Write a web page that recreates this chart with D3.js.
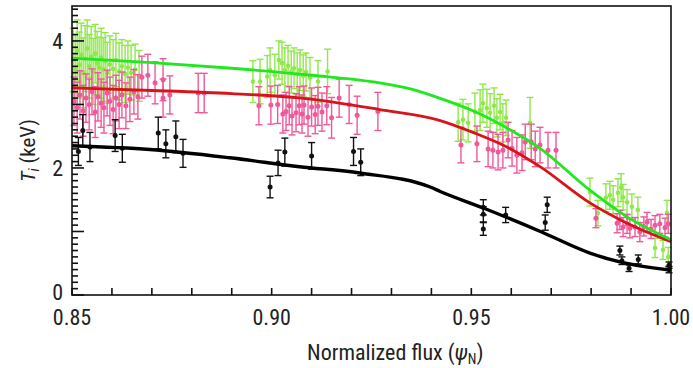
<!DOCTYPE html>
<html><head><meta charset="utf-8">
<script src="https://cdn.jsdelivr.net/npm/d3@7/dist/d3.min.js"></script>
<style>
body{margin:0;background:#fff;}
svg{display:block;}
text{font-family:'Liberation Sans Narrow','Arial Narrow','Roboto Condensed','Liberation Sans',sans-serif;fill:#222;}
</style></head><body>
<svg id="c" width="693" height="368"></svg>
<script>
// ---- data: [psiN, Ti (keV), error] ----
const greenPoints = [
[0.8503,3.70,0.50],[0.8508,3.55,0.55],[0.8513,3.85,0.48],[0.8518,3.62,0.52],[0.8523,3.78,0.50],
[0.8528,3.50,0.55],[0.8533,3.72,0.52],[0.8538,3.88,0.45],[0.8543,3.60,0.50],[0.8548,3.75,0.48],
[0.8553,3.52,0.52],[0.8558,3.80,0.46],[0.8563,3.65,0.50],[0.8568,3.58,0.48],[0.8573,3.74,0.46],
[0.8578,3.55,0.50],[0.8583,3.68,0.45],[0.8588,3.50,0.48],[0.8595,3.63,0.45],[0.8603,3.56,0.46],
[0.8610,3.70,0.42],[0.8618,3.52,0.45],[0.8625,3.60,0.42],[0.8633,3.48,0.45],[0.8640,3.58,0.42],
[0.8648,3.50,0.43],[0.8658,3.55,0.40],[0.8668,3.45,0.40],
[0.8953,3.36,0.33],[0.8971,3.36,0.35],[0.8989,3.44,0.33],[0.8996,3.54,0.35],[0.9008,3.46,0.33],
[0.9018,3.70,0.30],[0.9026,3.65,0.33],[0.9033,3.54,0.35],[0.9041,3.61,0.32],[0.9049,3.51,0.33],
[0.9056,3.57,0.32],[0.9064,3.48,0.33],[0.9071,3.54,0.32],[0.9079,3.45,0.33],[0.9086,3.51,0.30],
[0.9096,3.42,0.32],[0.9116,3.36,0.33],[0.9140,3.52,0.35],
[0.9467,2.72,0.30],[0.9479,2.76,0.32],[0.9492,2.71,0.30],[0.9509,2.88,0.30],[0.9522,2.91,0.32],
[0.9529,3.02,0.30],[0.9539,2.94,0.30],[0.9547,2.87,0.30],[0.9557,2.98,0.28],[0.9564,2.79,0.30],
[0.9572,2.88,0.28],[0.9579,2.71,0.30],[0.9587,2.79,0.28],[0.9647,2.71,0.40],
[0.9797,1.62,0.22],[0.9817,1.29,0.20],[0.9837,1.53,0.22],[0.9847,1.57,0.22],[0.9855,1.50,0.22],
[0.9867,1.61,0.22],[0.9875,1.69,0.22],[0.9880,1.54,0.20],[0.9890,1.46,0.20],[0.9902,1.39,0.20],
[0.9917,1.34,0.20],[0.9960,0.74,0.15],[0.9980,0.71,0.15],[0.9990,1.29,0.20],[0.9993,0.60,0.15]
];
const pinkPoints = [
[0.8505,3.05,0.38],[0.8513,2.95,0.40],[0.8520,3.15,0.38],[0.8528,2.90,0.40],[0.8535,3.10,0.38],
[0.8543,3.00,0.40],[0.8550,3.20,0.36],[0.8558,2.88,0.40],[0.8565,3.12,0.38],[0.8573,3.02,0.38],
[0.8580,2.95,0.40],[0.8588,3.18,0.36],[0.8595,3.05,0.38],[0.8603,2.92,0.38],[0.8610,3.10,0.36],
[0.8618,3.00,0.38],[0.8625,3.15,0.36],[0.8635,2.98,0.36],[0.8645,3.08,0.35],[0.8655,3.20,0.35],
[0.8665,3.12,0.35],[0.8675,3.43,0.33],[0.8690,3.46,0.33],[0.8708,3.34,0.33],[0.8728,3.39,0.33],
[0.8728,3.10,0.30],[0.8745,3.15,0.30],[0.8816,3.18,0.31],[0.8831,3.18,0.31],
[0.8968,2.98,0.30],[0.8998,2.99,0.30],[0.9015,3.00,0.30],[0.9028,2.85,0.30],[0.9036,2.89,0.30],
[0.9044,2.98,0.30],[0.9051,2.82,0.30],[0.9061,2.87,0.30],[0.9069,2.98,0.30],[0.9076,2.85,0.30],
[0.9081,2.99,0.30],[0.9091,2.80,0.30],[0.9100,2.96,0.30],[0.9109,2.84,0.30],[0.9116,2.97,0.30],
[0.9126,2.88,0.30],[0.9138,2.98,0.30],[0.9150,2.79,0.32],[0.9169,3.10,0.30],[0.9194,3.00,0.30],
[0.9214,2.83,0.30],[0.9266,2.89,0.30],
[0.9474,2.36,0.28],[0.9514,2.38,0.28],[0.9542,2.30,0.28],[0.9554,2.28,0.28],[0.9567,2.25,0.28],
[0.9579,2.28,0.28],[0.9592,2.44,0.28],[0.9602,2.31,0.28],[0.9614,2.20,0.28],[0.9627,2.24,0.28],
[0.9635,2.41,0.28],[0.9650,2.41,0.28],[0.9660,2.30,0.28],[0.9672,2.36,0.28],[0.9692,2.28,0.28],
[0.9712,2.28,0.28],
[0.9812,1.21,0.15],[0.9865,1.13,0.15],[0.9872,1.18,0.15],[0.9880,1.07,0.15],[0.9890,1.12,0.15],
[0.9897,1.05,0.15],[0.9910,1.07,0.15],[0.9922,0.99,0.15],[0.9932,1.08,0.15],[0.9940,1.15,0.15],
[0.9950,1.04,0.15],[0.9960,1.10,0.15],[0.9972,1.12,0.15],[0.9985,1.06,0.15],[0.9993,1.12,0.15]
];
const blackPoints = [
[0.8516,2.26,0.22],[0.8527,2.59,0.25],[0.8545,2.33,0.23],[0.8608,2.51,0.25],[0.8626,2.31,0.22],
[0.8716,2.55,0.25],[0.8735,2.38,0.22],[0.8760,2.49,0.25],[0.8778,2.23,0.22],[0.8996,1.70,0.17],
[0.9016,2.08,0.20],[0.9033,2.25,0.22],[0.9100,2.19,0.21],[0.9205,2.26,0.22],[0.9223,2.09,0.21],
[0.9530,1.38,0.12],[0.9530,1.27,0.12],[0.9530,1.04,0.10],[0.9586,1.26,0.12],[0.9685,1.14,0.12],
[0.9690,1.42,0.12],[0.9872,0.70,0.07],[0.9877,0.54,0.06],[0.9895,0.42,0.05],[0.9918,0.56,0.07],
[0.9995,0.47,0.05],[0.9995,0.40,0.05]
];
// fitted profiles [psiN, Ti]
const greenFit = [[0.85,3.73],[0.87,3.66],[0.89,3.57],[0.91,3.46],[0.926,3.35],[0.935,3.24],[0.942,3.10],
[0.9504,2.90],[0.9589,2.63],[0.9672,2.31],[0.9797,1.65],[0.989,1.23],[1.0,0.87]];
const redFit = [[0.85,3.26],[0.87,3.22],[0.89,3.17],[0.9075,3.10],[0.927,2.92],[0.942,2.75],[0.9504,2.56],
[0.9589,2.33],[0.9672,2.02],[0.9797,1.45],[0.989,1.13],[1.0,0.84]];
const blackFit = [[0.85,2.35],[0.8695,2.29],[0.8895,2.16],[0.907,2.02],[0.9221,1.92],[0.9397,1.70],
[0.9422,1.63],[0.953,1.37],[0.9673,1.00],[0.9797,0.66],[0.9872,0.52],[1.0,0.39]];
const xTickLabels = [0.85,0.90,0.95,1.00];
const yTickLabels = [0,2,4];

// ---- layout ----
const svg = d3.select('#c');
const L=72,R=671,T=6,B=295;
const x = d3.scaleLinear().domain([0.85,1.0]).range([L,R]);
const y = d3.scaleLinear().domain([0,4.55]).range([B,T]);

const gPts = svg.append('g');
function drawSeries(data,color,cap,r){
  const g = gPts.append('g').attr('stroke',color).attr('fill',color).attr('stroke-width',1.4);
  data.forEach(d=>{
    const cx=x(d[0]), y1=y(d[1]+d[2]), y2=y(d[1]-d[2]);
    g.append('line').attr('x1',cx).attr('x2',cx).attr('y1',y1).attr('y2',y2);
    g.append('line').attr('x1',cx-cap).attr('x2',cx+cap).attr('y1',y1).attr('y2',y1);
    g.append('line').attr('x1',cx-cap).attr('x2',cx+cap).attr('y1',y2).attr('y2',y2);
    g.append('circle').attr('cx',cx).attr('cy',y(d[1])).attr('r',r).attr('stroke','none');
  });
}
drawSeries(greenPoints,'#8fe84a',3.5,2.3);
drawSeries(pinkPoints,'#f0589a',3.5,2.5);
drawSeries(blackPoints,'#111',3.5,2.5);

const line = d3.line().x(d=>x(d[0])).y(d=>y(d[1])).curve(d3.curveMonotoneX);
svg.append('path').datum(redFit).attr('d',line).attr('fill','none').attr('stroke','#d8141a').attr('stroke-width',2.8);
svg.append('path').datum(greenFit).attr('d',line).attr('fill','none').attr('stroke','#1fe81f').attr('stroke-width',2.8);
svg.append('path').datum(blackFit).attr('d',line).attr('fill','none').attr('stroke','#000').attr('stroke-width',3.4);

// ---- axes ----
const ax = svg.append('g').attr('stroke','#111').attr('stroke-width',1.6);
ax.append('rect').attr('x',L).attr('y',T).attr('width',R-L).attr('height',B-T).attr('fill','none');
const xt = d3.range(0,16).map(i=>0.85+i*0.01);
xt.forEach(v=>ax.append('line').attr('x1',x(v)).attr('x2',x(v)).attr('y1',B).attr('y2',B-7));
const ytMinor = d3.range(0,46).map(i=>i*0.1);
ytMinor.forEach((v,i)=>{
  const len = (i%10===0)?12:6;
  ax.append('line').attr('x1',L).attr('x2',L+len).attr('y1',y(v)).attr('y2',y(v));
});

svg.append('g').selectAll('text').data(xTickLabels).join('text')
  .attr('x',d=>x(d)).attr('y',325).attr('text-anchor','middle').attr('font-size',22)
  .text(d=>d3.format('.2f')(d));
svg.append('g').selectAll('text').data(yTickLabels).join('text')
  .attr('x',63).attr('y',d=>y(d)+(d===0?5:8)).attr('text-anchor','end').attr('font-size',22)
  .text(d=>d);

// axis titles
const xl = svg.append('text').attr('x',307).attr('y',360).attr('font-size',22);
xl.append('tspan').text('Normalized flux (');
xl.append('tspan').attr('font-style','italic').text('ψ');
xl.append('tspan').attr('font-size',14).attr('dy',4).text('N');
xl.append('tspan').attr('dy',-4).text(')');

const yl = svg.append('text').attr('transform','translate(35,182) rotate(-90)').attr('font-size',21);
yl.append('tspan').attr('font-style','italic').text('T');
yl.append('tspan').attr('font-style','italic').attr('font-size',14).attr('dy',4).text('i');
yl.append('tspan').attr('dy',-4).text(' (keV)');
</script>
</body></html>
